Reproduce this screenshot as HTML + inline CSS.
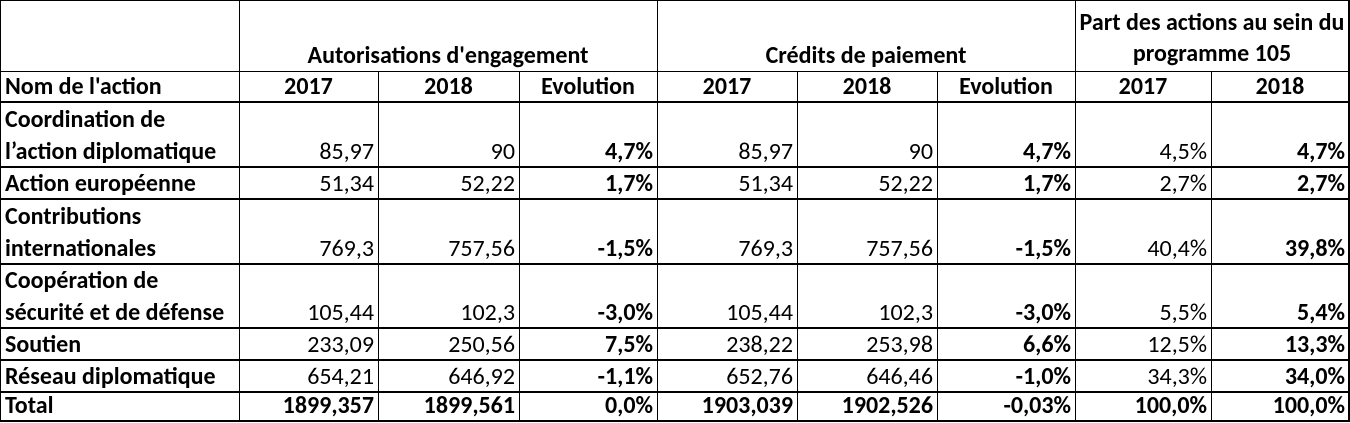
<!DOCTYPE html>
<html><head><meta charset="utf-8"><style>
html,body{margin:0;padding:0;background:#fff;}
#t{position:relative;width:1350px;height:423px;font-family:"Calibri","Carlito","Liberation Sans",sans-serif;font-size:24px;color:#000;overflow:hidden;}
.c{position:absolute;box-sizing:border-box;line-height:32px;white-space:nowrap;}
.r{text-align:right;padding-right:4px;}
.m{text-align:center;}
.l{text-align:left;padding-left:5px;}
.b{font-weight:bold;}
.h{position:absolute;background:#000;}
</style></head><body>
<div id="t"></div>
<script>
const xs=[0,239,378,519,657,797,937,1075,1211,1349];
const ys=[0,71,102,167,199,264,328,360,392,421];
const labels=[["Coordination de","l’action diplomatique"],["Action européenne"],["Contributions","internationales"],["Coopération de","sécurité et de défense"],["Soutien"],["Réseau diplomatique"],["Total"]];
const ae2017=["85,97","51,34","769,3","105,44","233,09","654,21","1899,357"];
const ae2018=["90","52,22","757,56","102,3","250,56","646,92","1899,561"];
const aeEvo=["4,7%","1,7%","-1,5%","-3,0%","7,5%","-1,1%","0,0%"];
const cp2017=["85,97","51,34","769,3","105,44","238,22","652,76","1903,039"];
const cp2018=["90","52,22","757,56","102,3","253,98","646,46","1902,526"];
const cpEvo=["4,7%","1,7%","-1,5%","-3,0%","6,6%","-1,0%","-0,03%"];
const part2017=["4,5%","2,7%","40,4%","5,5%","12,5%","34,3%","100,0%"];
const part2018=["4,7%","2,7%","39,8%","5,4%","13,3%","34,0%","100,0%"];
const T=document.getElementById('t');
function cell(x0,x1,y0,y1,html,cls,name){
  const d=document.createElement('div');
  d.className='c '+cls;
  d.style.left=x0+'px';d.style.width=(x1-x0)+'px';
  d.style.top=(y1-31)+'px';d.style.height='32px';
  d.innerHTML=html;
  
  
  T.appendChild(d);return d;
}
function line(x,y,w,h,name){
  const d=document.createElement('div');d.className='h';
  d.style.left=x+'px';d.style.top=y+'px';d.style.width=w+'px';d.style.height=h+'px';
  
  
  T.appendChild(d);
}
cell(239,657,0,71,'Autorisations d\'engagement','m b','header-autorisations');
cell(657,1075,0,71,'Crédits de paiement','m b','header-credits');
let p=cell(1075,1349,0,71,'Part des actions au sein du<br>programme 105','m b','header-part');
p.style.top='7px';p.style.height='64px';p.style.lineHeight='31px';
const sub=["Nom de l'action","2017","2018","Evolution","2017","2018","Evolution","2017","2018"];
sub.forEach((s,i)=>cell(xs[i],xs[i+1],71,102,s,(i==0?'l':'m')+' b','subheader-'+i));
const cols=[ae2017,ae2018,aeEvo,cp2017,cp2018,cpEvo,part2017,part2018];
const boldCol=[false,false,true,false,false,true,false,true];
labels.forEach((lab,r)=>{
  const y0=ys[r+2],y1=ys[r+3];
  const total=r==labels.length-1;
  const c=cell(0,239,y0,y1,lab.join('<br>'),'l b','row-label-'+r);
  c.style.top=(y1+1-32*lab.length)+'px';c.style.height=(32*lab.length)+'px';
  cols.forEach((arr,k)=>{
    cell(xs[k+1],xs[k+2],y0,y1,arr[r],'r'+((boldCol[k]||total)?' b':''),'cell-r'+r+'-c'+k);
  });
});
line(0,0,1350,1,'top-border');
ys.slice(1).forEach((y,i)=>line(0,y-(i>=1?1:0),1350,i>=1?2:1,'row-line-'+i));
xs.forEach((x,i)=>{
  const top=(i==0||i==1||i==4||i==7||i==9)?0:71;
  line(Math.min(x,1348),top,i==9?2:1,421-top,'col-line-'+i);
});
</script>
</body></html>
